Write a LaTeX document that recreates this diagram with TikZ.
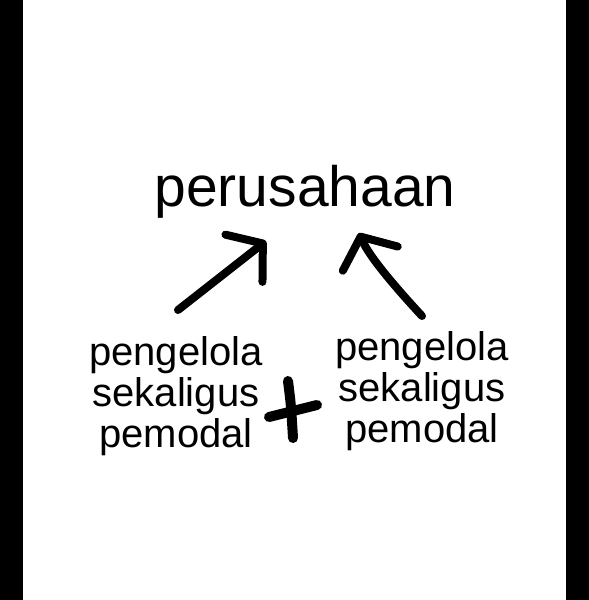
\documentclass[tikz,border=0pt]{standalone}
\usepackage{fontspec}
\setmainfont{Liberation Sans}
\usetikzlibrary{arrows.meta}
\tikzset{
  heading/.style={inner sep=0pt, font=\fontsize{57}{60}\selectfont},
  block/.style={inner sep=0pt, align=center, font=\fontsize{40}{41}\selectfont},
  stroke/.style={line width=8pt, line cap=round, line join=round},
  barb/.style={stroke, -{Straight Barb[length=24pt,width=60pt,round]}},
}
\begin{document}
\begin{tikzpicture}[x=1pt,y=-1pt]
  \useasboundingbox (0,0) rectangle (589,600);
  \fill[black] (0,0) rectangle (23,600);
  \fill[black] (566,0) rectangle (589,600);
  % texts
  \node[heading, anchor=base] (firm) at (305,206) {perusahaan};
  \node[block, anchor=base] (ownerl) at (176,447) {pengelola\\sekaligus\\pemodal};
  \node[block, anchor=base] (ownerr) at (422,442) {pengelola\\sekaligus\\pemodal};
  % arrow ends
  \coordinate (ltail) at (178,310);
  \coordinate (lhead) at (266,241);
  \coordinate (rtail) at (422,316);
  \coordinate (rhead) at (359,233);
  \draw[barb] (ltail) -- (lhead);
  \draw[barb] (rtail) .. controls (398,290) and (370,258) .. (rhead);
  % plus sign
  \draw[stroke, line width=10pt] (288,381) .. controls (291,405) .. (293,438);
  \draw[stroke, line width=10pt] (269,417) -- (317,405);
\end{tikzpicture}
\end{document}
